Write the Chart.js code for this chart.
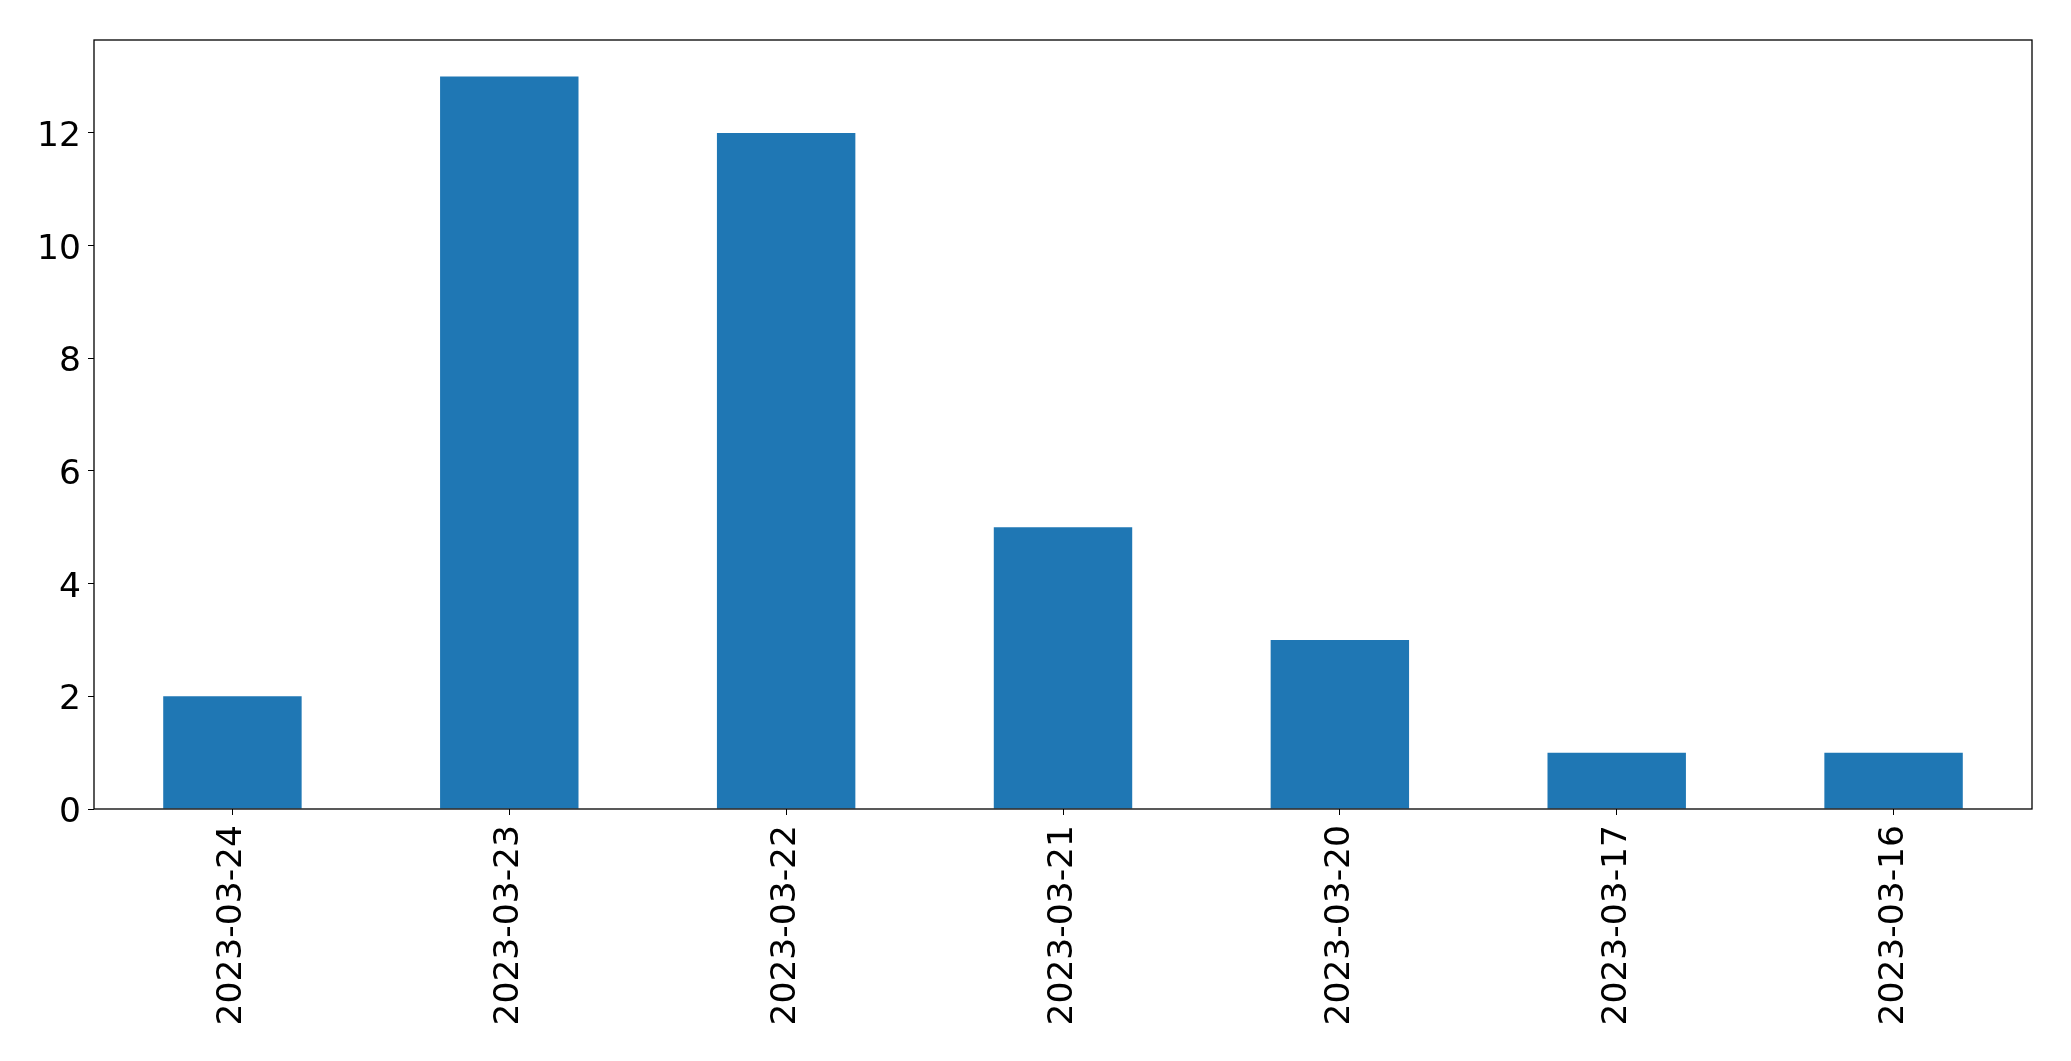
<!DOCTYPE html>
<html>
<head>
<meta charset="utf-8">
<script src="https://cdn.jsdelivr.net/npm/chart.js@4.4.1/dist/chart.umd.min.js"></script>
<style>
  html, body { margin: 0; padding: 0; background: #fff; }
  canvas { display: block; }
</style>
</head>
<body>
<canvas id="grafico" width="2071" height="1061"></canvas>
<script>
// datos del grafico
var fechas = ['2023-03-24', '2023-03-23', '2023-03-22', '2023-03-21', '2023-03-20', '2023-03-17', '2023-03-16']
var cantidades = [2, 13, 12, 5, 3, 1, 1]
var ticks_y = [0, 2, 4, 6, 8, 10, 12]

var fuente = { family: 'DejaVu Sans', size: 34.5 }

// marco negro alrededor del area del grafico
var marco = {
    id: 'marco',
    afterDraw: function(chart){
        var a = chart.chartArea
        var ctx = chart.ctx
        ctx.save()
        ctx.strokeStyle = '#000'
        ctx.lineWidth = 1.3
        ctx.strokeRect(a.left, a.top, a.right - a.left, a.bottom - a.top)
        ctx.restore()
    }
}

var ctx = document.getElementById('grafico').getContext('2d')
window.miGrafico = new Chart(ctx, {
    type: 'bar',
    data: {
        labels: fechas,
        datasets: [{
            data: cantidades,
            backgroundColor: '#1f77b4',
            borderWidth: 0,
            barPercentage: 0.5,
            categoryPercentage: 1.0
        }]
    },
    options: {
        responsive: false,
        animation: false,
        devicePixelRatio: 1,
        layout: {
            padding: { left: 0, top: 40, right: 39, bottom: 0 }
        },
        plugins: {
            legend: { display: false },
            tooltip: { enabled: false }
        },
        scales: {
            x: {
                offset: true,
                grid: { display: true, drawOnChartArea: false, tickLength: 6, color: '#000', offset: false },
                border: { display: false },
                ticks: {
                    color: '#000',
                    font: fuente,
                    minRotation: 90,
                    maxRotation: 90,
                    padding: 10,
                    autoSkip: false
                },
                afterFit: function(scale){ scale.height = 252 }
            },
            y: {
                min: 0,
                max: 13.65,
                grid: { display: true, drawOnChartArea: false, tickLength: 6, color: '#000' },
                border: { display: false },
                ticks: {
                    color: '#000',
                    font: fuente,
                    stepSize: 2,
                    includeBounds: false,
                    padding: 7,
                    labelOffset: 4,
                    callback: function(v){ return ticks_y.indexOf(v) >= 0 ? v : null }
                },
                afterFit: function(scale){ scale.width = 94 }
            }
        }
    },
    plugins: [marco]
})
</script>
</body>
</html>
